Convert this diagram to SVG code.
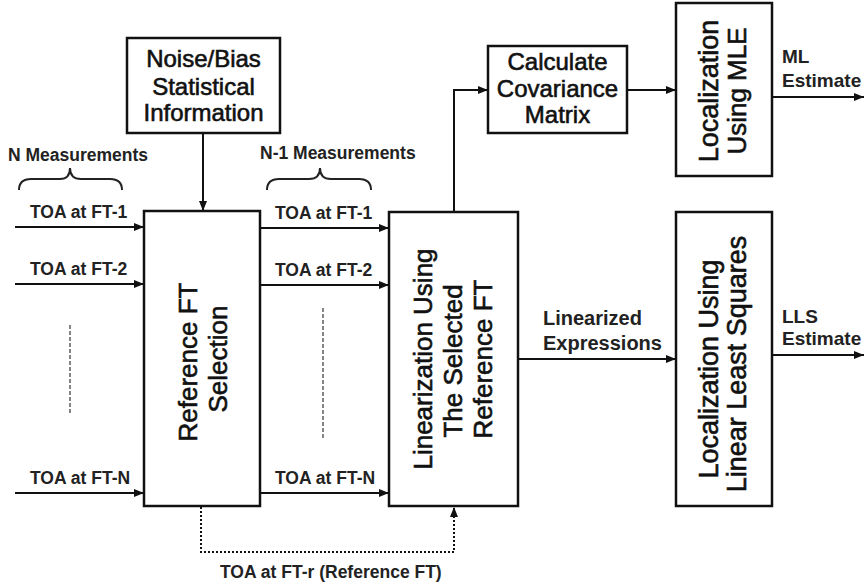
<svg xmlns="http://www.w3.org/2000/svg" width="866" height="588" viewBox="0 0 866 588">
<defs>
<marker id="ah" viewBox="0 0 10 8" refX="10" refY="4" markerWidth="10" markerHeight="8" markerUnits="userSpaceOnUse" orient="auto">
<path d="M0,0 L10,4 L0,8 Z" fill="#111"/>
</marker>
<style>
.box{fill:#fff;stroke:#111;stroke-width:2.5}
.bt{font-family:"Liberation Sans",Arial,sans-serif;font-size:24px;fill:#111;stroke:#111;stroke-width:0.6;text-anchor:middle}
.rt{font-family:"Liberation Sans",Arial,sans-serif;font-size:26px;fill:#111;stroke:#111;stroke-width:0.6;text-anchor:middle}
.lb{font-family:"Liberation Sans",Arial,sans-serif;font-size:17.5px;font-weight:bold;fill:#222}
.lb2{font-family:"Liberation Sans",Arial,sans-serif;font-size:20px;font-weight:bold;fill:#222}
.lb3{font-family:"Liberation Sans",Arial,sans-serif;font-size:19px;font-weight:bold;fill:#222}
.ln{fill:none;stroke:#111;stroke-width:2}
.dash{fill:none;stroke:#333;stroke-width:1.2;stroke-dasharray:4,2}
.dot{fill:none;stroke:#111;stroke-width:2;stroke-dasharray:2,2}
.brace{fill:none;stroke:#222;stroke-width:2}
</style>
</defs>
<rect width="866" height="588" fill="#fff"/>

<g id="connectors">
<line class="ln" x1="203" y1="133" x2="203" y2="211" marker-end="url(#ah)"/>
<line class="ln" x1="15" y1="227" x2="144" y2="227" marker-end="url(#ah)"/>
<line class="ln" x1="15" y1="284" x2="144" y2="284" marker-end="url(#ah)"/>
<line class="ln" x1="15" y1="493" x2="144" y2="493" marker-end="url(#ah)"/>
<line class="ln" x1="260" y1="228" x2="389" y2="228" marker-end="url(#ah)"/>
<line class="ln" x1="260" y1="285" x2="389" y2="285" marker-end="url(#ah)"/>
<line class="ln" x1="260" y1="493" x2="389" y2="493" marker-end="url(#ah)"/>
<polyline class="ln" points="454,212 454,90 488,90" marker-end="url(#ah)"/>
<line class="ln" x1="627" y1="90" x2="676" y2="90" marker-end="url(#ah)"/>
<line class="ln" x1="772" y1="97" x2="864" y2="97" marker-end="url(#ah)"/>
<line class="ln" x1="518" y1="359" x2="676" y2="359" marker-end="url(#ah)"/>
<line class="ln" x1="772" y1="355" x2="864" y2="355" marker-end="url(#ah)"/>
<polyline class="dot" points="201,507 201,552 454,552 454,507" marker-end="url(#ah)"/>
<line class="dash" x1="70" y1="325" x2="70" y2="413"/>
<line class="dash" x1="323" y1="308" x2="323" y2="438"/>
<path class="brace" d="M19,190 Q19,179 31,179 L60,179 Q70,179 70,168 Q70,179 81,179 L110,179 Q122,179 122,190"/>
<path class="brace" d="M267,190 Q267,179 279,179 L309,179 Q320,179 320,168 Q320,179 331,179 L359,179 Q371,179 371,190"/>
</g>

<g id="labels">
<text class="lb" x="8" y="161">N Measurements</text>
<text class="lb" x="260" y="159">N-1 Measurements</text>
<text class="lb" x="30" y="218">TOA at FT-1</text>
<text class="lb" x="30" y="275">TOA at FT-2</text>
<text class="lb" x="30" y="484">TOA at FT-N</text>
<text class="lb" x="275" y="219">TOA at FT-1</text>
<text class="lb" x="275" y="276">TOA at FT-2</text>
<text class="lb" x="275" y="484">TOA at FT-N</text>
<text class="lb" x="220" y="578">TOA at FT-r (Reference FT)</text>
<text class="lb2" x="543" y="325">Linearized</text>
<text class="lb2" x="543" y="350">Expressions</text>
<text class="lb3" x="782" y="63">ML</text>
<text class="lb3" x="782" y="87">Estimate</text>
<text class="lb3" x="782" y="323">LLS</text>
<text class="lb3" x="782" y="345">Estimate</text>
</g>

<g id="noise">
<rect class="box" x="127" y="38" width="153" height="95"/>
<text class="bt" x="203.5" y="67">Noise/Bias</text>
<text class="bt" x="203.5" y="95">Statistical</text>
<text class="bt" x="203.5" y="121">Information</text>
</g>

<g id="refsel">
<rect class="box" x="144" y="211" width="116" height="295"/>
<text class="rt" transform="translate(197,362) rotate(-90)">Reference FT</text>
<text class="rt" transform="translate(227,359) rotate(-90)">Selection</text>
</g>

<g id="linearization">
<rect class="box" x="389" y="212" width="129" height="294"/>
<text class="rt" transform="translate(432,359) rotate(-90)">Linearization Using</text>
<text class="rt" transform="translate(462,361) rotate(-90)">The Selected</text>
<text class="rt" transform="translate(492,359) rotate(-90)">Reference FT</text>
</g>

<g id="covariance">
<rect class="box" x="488" y="46" width="139" height="87"/>
<text class="bt" x="557.5" y="70">Calculate</text>
<text class="bt" x="557.5" y="97">Covariance</text>
<text class="bt" x="557.5" y="123">Matrix</text>
</g>

<g id="mle">
<rect class="box" x="676" y="3" width="96" height="173"/>
<text class="rt" style="font-size:27px" transform="translate(718,91) rotate(-90)">Localization</text>
<text class="rt" style="font-size:26px" transform="translate(746,91) rotate(-90)">Using MLE</text>
</g>

<g id="lls">
<rect class="box" x="676" y="212" width="96" height="294"/>
<text class="rt" style="font-size:27px" transform="translate(718,369) rotate(-90)">Localization Using</text>
<text class="rt" style="font-size:27px" transform="translate(746,364) rotate(-90)">Linear Least Squares</text>
</g>
</svg>
